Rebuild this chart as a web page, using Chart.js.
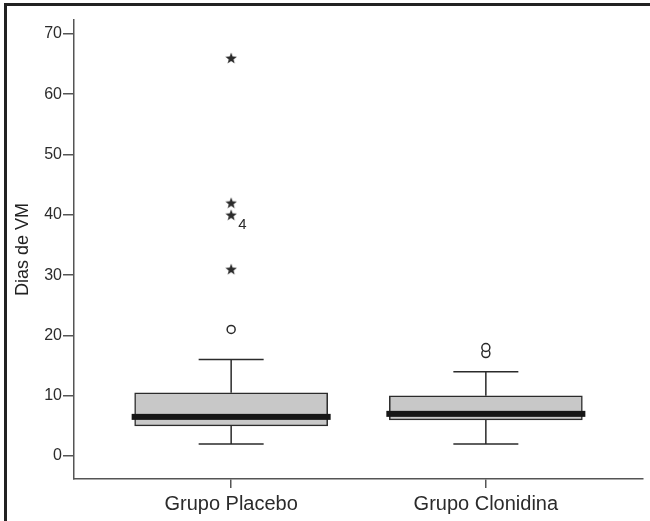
<!DOCTYPE html>
<html>
<head>
<meta charset="utf-8">
<script src="https://cdn.jsdelivr.net/npm/chart.js@4/dist/chart.umd.min.js"></script>
<style>
  html, body { margin: 0; padding: 0; background: #fff; }
  canvas { display: block; }
</style>
</head>
<body>
<canvas id="chart" width="650" height="521"></canvas>
<script>
// box plot values, one entry per group
const groups = ['Grupo Placebo', 'Grupo Clonidina'];
const whiskerLow = [2, 2];
const boxLow = [5, 6];
const medians = [6.5, 7];
const boxHigh = [10.5, 10];
const whiskerHigh = [16, 14];
const outliers = [[21], [17, 18]];
const extremes = [[31, 40, 42, 66], []];
const extremeLabels = [[null, '4', null, null], []];
const yTicks = [0, 10, 20, 30, 40, 50, 60, 70];
const yTitle = 'Dias de VM';

const FONT = '"Liberation Sans", Arial, Helvetica, sans-serif';
const INK = '#2b2b2b';
const AXIS = '#555';
const BOX_WIDTH = 193;
const CAP_WIDTH = 65;

function starImage(size, color) {
  const c = document.createElement('canvas');
  c.width = size;
  c.height = size;
  const g = c.getContext('2d');
  const r = size / 2;
  const inner = r * 0.42;
  g.beginPath();
  for (let i = 0; i < 10; i++) {
    const a = -Math.PI / 2 + (i * Math.PI) / 5;
    const rr = i % 2 ? inner : r;
    g.lineTo(r + rr * Math.cos(a), r + 0.6 + rr * Math.sin(a));
  }
  g.closePath();
  g.fillStyle = color;
  g.fill();
  return c;
}

const points = (lists) => lists.flatMap((vals, i) => vals.map((v) => ({ x: i + 1, y: v })));

const boxPlot = {
  id: 'boxPlot',
  beforeDraw(chart) {
    const { ctx, width, height } = chart;
    ctx.save();
    ctx.fillStyle = '#fff';
    ctx.fillRect(0, 0, width, height);
    ctx.fillStyle = '#222';
    ctx.fillRect(4, 3, 3, height - 3);
    ctx.fillRect(4, 3, width - 4, 3);
    ctx.restore();
  },
  afterDatasetsDraw(chart) {
    const { ctx, scales: { x, y } } = chart;
    ctx.save();
    ctx.strokeStyle = INK;
    ctx.lineWidth = 1.5;
    groups.forEach((_, i) => {
      const cx = x.getPixelForValue(i + 1);
      const ends = [[boxHigh[i], whiskerHigh[i]], [boxLow[i], whiskerLow[i]]];
      ends.forEach(([from, to]) => {
        const y0 = y.getPixelForValue(from);
        const y1 = y.getPixelForValue(to);
        ctx.beginPath();
        ctx.moveTo(cx, y0);
        ctx.lineTo(cx, y1);
        ctx.moveTo(cx - CAP_WIDTH / 2, y1);
        ctx.lineTo(cx + CAP_WIDTH / 2, y1);
        ctx.stroke();
      });
      // thick median bar, a little wider than the box
      const my = y.getPixelForValue(medians[i]);
      ctx.fillStyle = '#161616';
      ctx.fillRect(cx - BOX_WIDTH / 2 - 3, my - 3, BOX_WIDTH + 6, 6);
      // case labels beside extreme points
      ctx.fillStyle = INK;
      ctx.font = '15px ' + FONT;
      ctx.textAlign = 'left';
      ctx.textBaseline = 'middle';
      (extremeLabels[i] || []).forEach((label, j) => {
        if (!label) return;
        const py = y.getPixelForValue(extremes[i][j]);
        ctx.fillText(label, cx + 7, py + 10);
      });
    });
    ctx.restore();
  }
};

new Chart(document.getElementById('chart'), {
  type: 'bar',
  data: {
    datasets: [
      {
        label: 'box',
        data: groups.map((_, i) => ({ x: i + 1, y: [boxLow[i], boxHigh[i]] })),
        backgroundColor: '#c8c8c8',
        borderColor: INK,
        borderWidth: 1.5,
        borderSkipped: false,
        barThickness: BOX_WIDTH
      },
      {
        type: 'scatter',
        label: 'outliers',
        data: points(outliers),
        pointStyle: 'circle',
        pointRadius: 4,
        borderWidth: 1.5,
        borderColor: INK,
        backgroundColor: '#fff'
      },
      {
        type: 'scatter',
        label: 'extremes',
        data: points(extremes),
        pointStyle: starImage(12, INK),
        pointRadius: 6
      }
    ]
  },
  options: {
    responsive: false,
    animation: false,
    events: [],
    layout: { padding: { top: 20, right: 4, left: 0, bottom: 0 } },
    plugins: { legend: { display: false }, tooltip: { enabled: false } },
    scales: {
      x: {
        type: 'linear',
        min: 0.383,
        max: 2.617,
        offset: false,
        afterBuildTicks: (s) => { s.ticks = groups.map((_, i) => ({ value: i + 1 })); },
        afterFit: (s) => { s.height = 42; },
        ticks: {
          callback: (v, i) => groups[i],
          font: { family: FONT, size: 20 },
          color: INK,
          padding: 4,
          autoSkip: false,
          maxRotation: 0
        },
        grid: { offset: false, drawOnChartArea: false, tickLength: 9, color: AXIS, lineWidth: 1.5 },
        border: { color: AXIS, width: 1.5 }
      },
      y: {
        min: -3.8,
        max: 72.3,
        afterBuildTicks: (s) => { s.ticks = yTicks.map((v) => ({ value: v })); },
        afterFit: (s) => { s.width = 74; },
        ticks: { font: { family: FONT, size: 16 }, color: INK, padding: 1 },
        grid: { drawOnChartArea: false, tickLength: 11, color: AXIS, lineWidth: 1.5 },
        border: { color: AXIS, width: 1.5 },
        title: {
          display: true,
          text: yTitle,
          font: { family: FONT, size: 18 },
          color: '#222',
          padding: { top: 12, bottom: 0 }
        }
      }
    }
  },
  plugins: [boxPlot]
});
</script>
</body>
</html>
